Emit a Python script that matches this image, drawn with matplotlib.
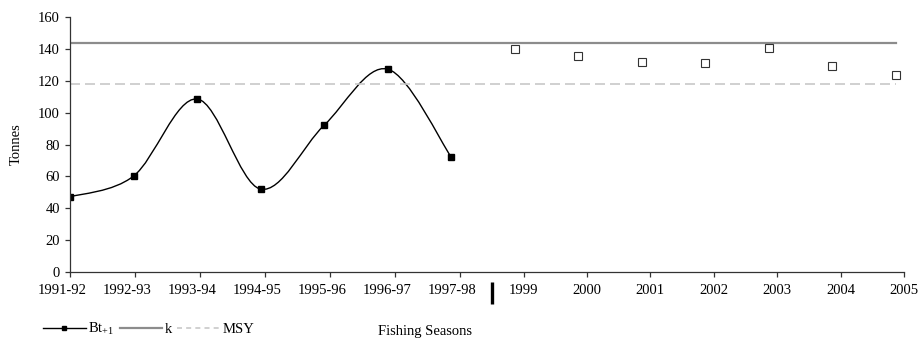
import numpy as np
import matplotlib
matplotlib.use('Agg')
import matplotlib.pyplot as plt
from matplotlib.path import Path
from matplotlib.patches import PathPatch
from matplotlib.lines import Line2D
from matplotlib.transforms import ScaledTranslation, blended_transform_factory

# ---- data ----
seasons = ['1991-92', '1992-93', '1993-94', '1994-95', '1995-96', '1996-97', '1997-98']
years = ['1999', '2000', '2001', '2002', '2003', '2004', '2005']
biomass = [47.2, 60.2, 108.5, 52.1, 92.0, 127.2, 72.3]        # Bt+1
projected = [139.9, 135.7, 131.5, 131.1, 140.5, 129.4, 123.2]  # hollow squares
k_value = 143.5
msy_value = 118.0

plt.rcParams['font.family'] = ['Liberation Serif', 'DejaVu Serif']
plt.rcParams['mathtext.fontset'] = 'custom'
plt.rcParams['mathtext.rm'] = 'Liberation Serif'
plt.rcParams['mathtext.default'] = 'regular'
plt.rcParams['font.size'] = 10.5


def smooth_path(xs, ys):
    # excel-like smoothed line, drawn as bezier segments through the points
    pts = np.column_stack([xs, ys]).astype(float)
    n = len(pts)
    verts = [pts[0]]
    codes = [Path.MOVETO]
    for i in range(n - 1):
        p0 = pts[max(i - 1, 0)]
        p1 = pts[i]
        p2 = pts[i + 1]
        p3 = pts[min(i + 2, n - 1)]
        verts += [p1 + (p2 - p0) / 6.0, p2 - (p3 - p1) / 6.0, p2]
        codes += [Path.CURVE4] * 3
    return Path(verts, codes)


fig = plt.figure(figsize=(9.22, 3.39), dpi=100)
ax = fig.add_axes([70 / 922, 66.7 / 339, 834 / 922, 255.6 / 339])

x_hist = np.arange(len(seasons))
x_proj = np.arange(len(seasons), len(seasons) + len(years))
x_all = np.arange(len(seasons) + len(years))

ax.plot([x_all[0], x_all[-1]], [k_value, k_value], color='#8c8c8c', lw=1.6)
ax.plot([x_all[0], x_all[-1]], [msy_value, msy_value], color='#c8c8c8', lw=1.2,
        dashes=(6, 3))

ax.add_patch(PathPatch(smooth_path(x_hist, biomass), facecolor='none',
                       edgecolor='black', lw=1.0))
ax.plot(x_hist, biomass, ls='none', marker='s', ms=4.8, color='black')
ax.plot(x_proj, projected, ls='none', marker='s', ms=5.4, mfc='white',
        mec='#333333', mew=0.8)

# tick marks sit on a slightly different spacing than the points
tick_pos = np.r_[np.arange(7) * 1.0236, 6.142 + np.arange(1, 8) * 0.9984]
ax.set_xticks(tick_pos)
ax.set_xticklabels(seasons + years)
ax.set_xlim(0, tick_pos[-1])
ax.set_ylim(0, 160)
ax.set_yticks(range(0, 161, 20))

for s in ['top', 'right']:
    ax.spines[s].set_visible(False)
for s in ['left', 'bottom']:
    ax.spines[s].set_color('#333333')
    ax.spines[s].set_linewidth(0.9)
ax.tick_params(axis='both', direction='out', length=3.6, width=0.9, color='#333333')
ax.tick_params(axis='x', pad=5)
ax.tick_params(axis='y', pad=3.6)

for lbl in ax.get_xticklabels()[:7]:
    lbl.set_transform(lbl.get_transform() + ScaledTranslation(-0.08, 0, fig.dpi_scale_trans))

ax.set_ylabel('Tonnes', fontsize=10.5, labelpad=11)

# separator between seasons and calendar years
trans = blended_transform_factory(ax.transData, ax.transAxes)
ax.plot([6.646, 6.646], [-0.038, -0.124], transform=trans, color='black', lw=2.4,
        clip_on=False, solid_capstyle='butt')

handles = [
    Line2D([], [], color='black', lw=1.0, marker='s', ms=3.2),
    Line2D([], [], color='#8c8c8c', lw=1.6),
    Line2D([], [], color='#c8c8c8', lw=1.2, dashes=(3, 2.5)),
]
fig.legend(handles, ['Bt$_{+1}$', 'k', 'MSY'], loc='lower left',
           bbox_to_anchor=(36 / 922, -0.016), ncol=3, frameon=False,
           borderpad=0, handlelength=2.9, handletextpad=0.2, columnspacing=0.35,
           fontsize=10.5)
fig.text(378 / 922, 0.012, 'Fishing Seasons', fontsize=10.5, va='baseline')

fig.savefig('out.png', dpi=100)
